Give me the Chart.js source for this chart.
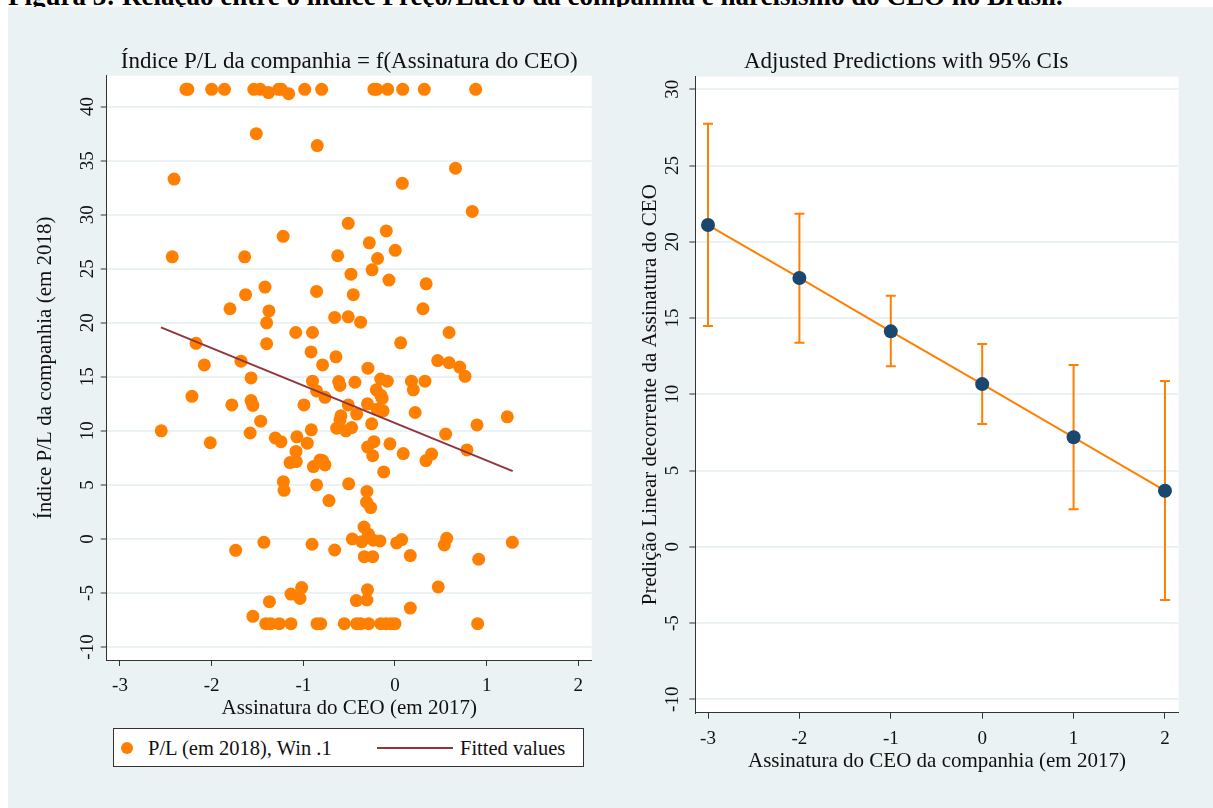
<!DOCTYPE html>
<html>
<head>
<meta charset="utf-8">
<title>Índice P/L e Assinatura do CEO</title>
<script src="https://cdn.jsdelivr.net/npm/chart.js@4.4.1/dist/chart.umd.min.js"></script>
<style>
  body { margin: 0; width: 1213px; height: 808px; overflow: hidden; position: relative; background: #fff;
         font-family: 'Liberation Serif', 'Times New Roman', serif; }
  #header { position: absolute; left: 8px; top: -17px; font-size: 27px; line-height: 27px; font-weight: bold;
            white-space: nowrap; color: #000; }
  #panel { position: absolute; left: 8px; top: 7px; width: 1205px; height: 801px; background: #eaf2f3; }
  canvas { position: absolute; top: 0; }
  #leftChart { left: 0; }
  #rightChart { left: 634px; }
  #legend { position: absolute; left: 113px; top: 728px; width: 471px; height: 39px; box-sizing: border-box;
            background: #fff; border: 1px solid #333; font-size: 20.5px; color: #111; }
  #legend .dot { position: absolute; left: 7px; top: 13px; width: 12px; height: 12px; border-radius: 50%; background: #ff8000; }
  #legend .lbl { position: absolute; top: 7px; line-height: 24px; white-space: nowrap; }
  #legend .ln { position: absolute; left: 263px; top: 18px; width: 76px; height: 2px; background: #90353b; }
</style>
</head>
<body>
<div id="header">Figura 3: Relação entre o índice Preço/Lucro da companhia e narcisismo do CEO no Brasil.</div>
<div id="panel"></div>
<canvas id="leftChart" width="610" height="725"></canvas>
<canvas id="rightChart" width="566" height="790"></canvas>
<div id="legend">
  <span class="dot"></span>
  <span class="lbl" style="left:34px">P/L (em 2018), Win .1</span>
  <span class="ln"></span>
  <span class="lbl" style="left:346px">Fitted values</span>
</div>
<script>
// Left panel: scatter of P/L (2018) against CEO signature (2017)
const ceoSignature = [
  -2.28, -2.26, -2.0, -1.86, -1.54, -1.47, -1.38, -1.27, -1.24, -1.16, -0.985, -0.80, -0.23, -0.20, -0.08, 0.084, 0.32, 0.88,
  -1.513, -0.848, -2.41, 0.08, 0.66, 0.843, -0.51, -0.095, -1.22, -0.28, -2.43, -1.64, -0.625, 0.003, -0.19, -0.25,
  -0.48, -0.066, 0.34, -1.418, -1.63, -0.855, -0.455, -1.80, -1.375, 0.305, -1.40, -0.658, -0.51, -0.375, -1.083, -0.90,
  0.59, -2.17, -1.40, 0.062, -2.08, -1.68, -0.916, -0.644, -0.79, -0.295, 0.466, 0.59, 0.706, 0.764, -1.57,
  -0.90, -0.614, -0.60, -0.437, -0.156, -0.084, 0.18, 0.327, 0.20, -0.204, -0.855, -0.764, -0.14, -0.155, -2.215,
  -1.78, -1.57, -1.55, -0.993, -0.51, -0.30, -0.196, -0.13, -0.59, -0.418, 0.22, -1.465, -0.6, -0.636, -0.535, -0.473,
  -0.254, -0.913, -1.58, -2.55, 1.225, 0.895, 0.553, -2.015, -1.306, -1.244, -1.07, -0.957, -1.08, -1.145, -1.077,
  -0.89, -0.818, -0.79, -0.764, -0.298, -0.23, -0.243, -0.055, 0.09, 0.338, 0.40, 0.785, -0.123, -1.218, -1.21,
  -0.855, -0.505, -0.72, -0.306, -0.31, -0.265,
  -0.338, -0.29, -0.466, -0.363, -0.237, -0.164, 0.018, 0.073, 0.564, 0.538, 1.28, -1.738, -1.43, -0.905, -0.658,
  -0.335, -0.243, 0.167, 0.913,
  -1.018, 0.472, -1.135, -1.036, -0.30, -0.422, -0.306, -1.37, 0.167, -1.55,
  -1.41, -1.356, -1.262, -1.135, -0.851, -0.81, -0.553, -0.418, -0.374, -0.287, -0.156, -0.098, -0.044, 0.0, 0.902
];
const plRatio = [
  41.6, 41.6, 41.6, 41.6, 41.6, 41.6, 41.3, 41.6, 41.6, 41.2, 41.6, 41.6, 41.6, 41.6, 41.6, 41.6, 41.6, 41.6,
  37.5, 36.4, 33.3, 32.9, 34.3, 30.3, 29.2, 28.5, 28.0, 27.4, 26.1, 26.1, 26.2, 26.7, 25.95, 24.9,
  24.5, 23.95, 23.6, 23.3, 22.6, 22.9, 22.6, 21.3, 21.1, 21.3, 20.0, 20.5, 20.55, 20.06, 19.1, 19.1,
  19.1, 18.1, 18.06, 18.15, 16.1, 16.45, 17.3, 16.85, 16.1, 15.8, 16.5, 16.3, 15.9, 15.05, 14.9,
  14.6, 14.57, 14.2, 14.5, 14.8, 14.6, 14.6, 14.6, 13.8, 13.8, 13.7, 13.1, 13.0, 13.3, 13.2,
  12.4, 12.8, 12.35, 12.4, 12.4, 12.5, 12.0, 11.85, 11.4, 11.55, 11.7, 10.9, 11.0, 10.25, 10.0, 10.3,
  10.65, 10.1, 9.8, 10.0, 11.3, 10.55, 9.7, 8.9, 9.35, 9.0, 9.45, 8.86, 8.1, 7.07, 7.16,
  6.7, 7.3, 7.25, 6.85, 8.5, 9.0, 7.7, 8.8, 7.9, 7.25, 7.85, 8.24, 6.2, 5.3, 4.5,
  5.0, 5.1, 3.55, 4.4, 3.4, 2.9,
  1.1, 0.44, 0.0, -0.25, -0.12, -0.18, -0.37, -0.06, 0.06, -0.56, -0.31, -1.05, -0.31, -0.49, -1.02,
  -1.64, -1.64, -1.54, -1.88,
  -4.5, -4.44, -5.1, -5.5, -4.7, -5.7, -5.65, -5.8, -6.4, -7.16,
  -7.84, -7.84, -7.84, -7.84, -7.84, -7.84, -7.84, -7.84, -7.84, -7.84, -7.84, -7.84, -7.84, -7.84, -7.84
];
const fitX = [-2.553, 1.284];
const fitY = [19.57, 6.27];

// Right panel: adjusted predictions with 95% CIs
const predX = [-3, -2, -1, 0, 1, 2];
const predY = [21.1, 17.63, 14.13, 10.67, 7.18, 3.68];
const ciLow = [14.48, 13.38, 11.84, 8.05, 2.46, -3.49];
const ciHigh = [27.75, 21.85, 16.47, 13.3, 11.92, 10.87];

const xTicks = [-3, -2, -1, 0, 1, 2];
const yTicksLeft = [-10, -5, 0, 5, 10, 15, 20, 25, 30, 35, 40];
const yTicksRight = [-10, -5, 0, 5, 10, 15, 20, 25, 30];

Chart.defaults.font.family = "'Liberation Serif', 'Times New Roman', serif";
Chart.defaults.color = '#111';
Chart.defaults.animation = false;

const ORANGE = '#ff8000';
const MAROON = '#90353b';
const NAVY = '#1a476f';
const GRID = '#eaf2f3';
const AXIS = '#333';

// white plot region
const plotBg = {
    id: 'plotBg',
    beforeDraw(chart) {
        const { ctx, chartArea: a } = chart;
        ctx.save();
        ctx.fillStyle = '#fff';
        ctx.fillRect(a.left, a.top, a.right - a.left, a.bottom - a.top);
        ctx.restore();
    }
};

// vertical CI bars with caps
const errorBars = {
    id: 'errorBars',
    beforeDatasetsDraw(chart) {
        const { ctx, scales: { x, y } } = chart;
        ctx.save();
        ctx.strokeStyle = ORANGE;
        ctx.lineWidth = 2;
        predX.forEach((v, i) => {
            const px = x.getPixelForValue(v);
            const lo = y.getPixelForValue(ciLow[i]);
            const hi = y.getPixelForValue(ciHigh[i]);
            ctx.beginPath();
            ctx.moveTo(px, lo); ctx.lineTo(px, hi);
            ctx.moveTo(px - 5, lo); ctx.lineTo(px + 5, lo);
            ctx.moveTo(px - 5, hi); ctx.lineTo(px + 5, hi);
            ctx.stroke();
        });
        ctx.restore();
    }
};

function xScale(min, max, height, pad, titleText, titleBottom) {
    return {
        type: 'linear', min: min, max: max,
        afterBuildTicks: s => { s.ticks = xTicks.map(v => ({ value: v })); },
        afterFit: s => { s.height = height; },
        grid: { drawOnChartArea: false, drawTicks: true, tickLength: 6, tickColor: AXIS, tickWidth: 1 },
        border: { color: AXIS, width: 1 },
        ticks: { padding: pad, font: { size: 19 }, maxRotation: 0, autoSkip: false, callback: v => String(v) },
        title: { display: true, text: titleText, font: { size: 21 }, padding: { top: 0, bottom: titleBottom } }
    };
}

function yScale(min, max, tickVals, width, pad, titleText, titleTop) {
    return {
        type: 'linear', min: min, max: max,
        afterBuildTicks: s => { s.ticks = tickVals.map(v => ({ value: v })); },
        afterFit: s => { s.width = width; },
        grid: { color: GRID, lineWidth: 2, tickLength: 6, tickColor: AXIS, tickWidth: 1 },
        border: { color: AXIS, width: 1 },
        ticks: { minRotation: 90, maxRotation: 90, crossAlign: 'center', padding: pad, autoSkip: false,
                 font: { size: 19 }, callback: v => String(v) },
        title: { display: true, text: titleText, font: { size: 21 }, padding: { top: titleTop, bottom: 0 } }
    };
}

window.addEventListener('load', function () {
    const scatterPoints = ceoSignature.map((x, i) => ({ x: x, y: plRatio[i] }));
    const fitPoints = fitX.map((x, i) => ({ x: x, y: fitY[i] }));

    new Chart(document.getElementById('leftChart'), {
        type: 'scatter',
        data: {
            datasets: [
                {
                    label: 'Fitted values', data: fitPoints, showLine: true, order: 0,
                    borderColor: MAROON, borderWidth: 2, pointRadius: 0
                },
                {
                    label: 'P/L (em 2018), Win .1', data: scatterPoints, order: 1,
                    backgroundColor: ORANGE, borderWidth: 0, pointRadius: 6.5, pointHoverRadius: 6.5
                }
            ]
        },
        options: {
            responsive: false,
            layout: { padding: { left: 0, right: 18.3, top: 0, bottom: 0 } },
            plugins: {
                legend: { display: false },
                tooltip: { enabled: false },
                title: {
                    display: true, text: 'Índice P/L da companhia = f(Assinatura do CEO)', fullSize: false,
                    color: '#111', font: { size: 23, weight: 'normal' }, padding: { top: 48, bottom: 0 }
                }
            },
            scales: {
                x: xScale(-3.145, 2.146, 65, 8.6, 'Assinatura do CEO (em 2017)', 4.4),
                y: yScale(-11.2, 42.87, yTicksLeft, 106.7, 0.4, 'Índice P/L da companhia (em 2018)', 32.4)
            }
        },
        plugins: [plotBg]
    });

    new Chart(document.getElementById('rightChart'), {
        type: 'line',
        data: {
            datasets: [{
                label: 'Predição', data: predX.map((x, i) => ({ x: x, y: predY[i] })),
                borderColor: ORANGE, borderWidth: 2, tension: 0,
                pointBackgroundColor: NAVY, pointBorderWidth: 0, pointRadius: 7, pointHoverRadius: 7
            }]
        },
        options: {
            responsive: false,
            layout: { padding: { left: 0, right: 21.5, top: 0, bottom: 0 } },
            plugins: {
                legend: { display: false },
                tooltip: { enabled: false },
                title: {
                    display: true, text: 'Adjusted Predictions with 95% CIs',
                    color: '#111', font: { size: 23, weight: 'normal' }, padding: { top: 48.3, bottom: 0.8 }
                }
            },
            scales: {
                x: xScale(-3.138, 2.148, 77.3, 8.9, 'Assinatura do CEO da companhia (em 2017)', 16.4),
                y: yScale(-10.88, 30.83, yTicksRight, 61.4, 4.2, 'Predição Linear decorrente da Assinatura do CEO', 3.4)
            }
        },
        plugins: [plotBg, errorBars]
    });
});
</script>
</body>
</html>
